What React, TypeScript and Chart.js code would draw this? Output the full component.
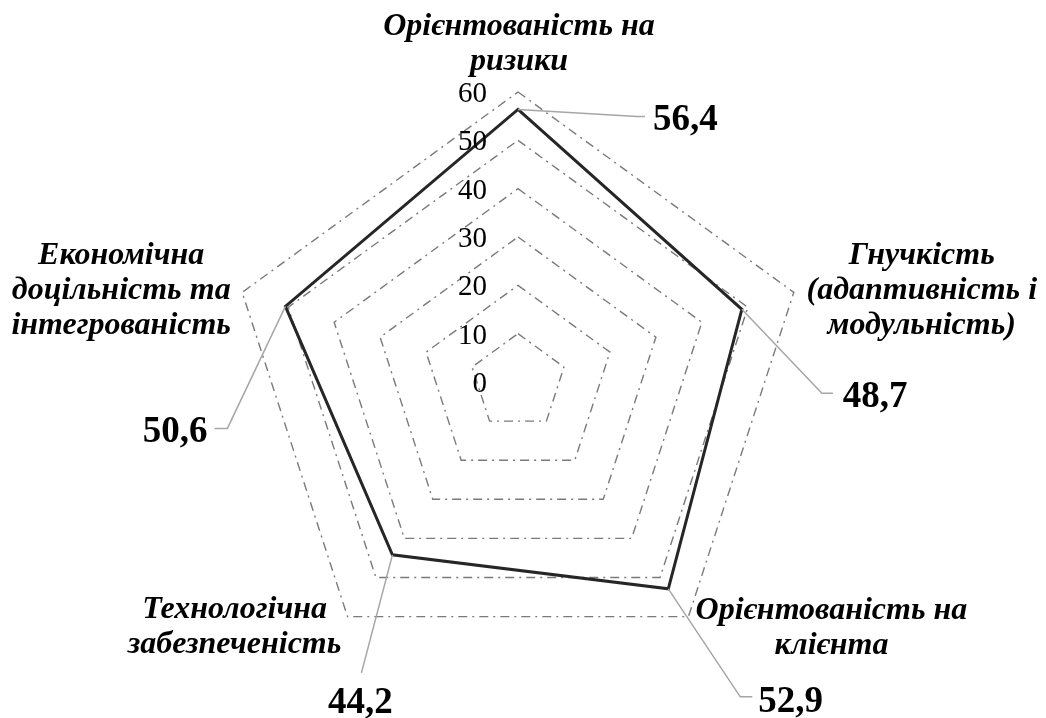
import { useEffect, useRef } from "react";
import { Chart, registerables } from "chart.js";

Chart.register(...registerables);

// ---- data ----
const categories: string[][] = [
  ["Орієнтованість на", "ризики"],
  ["Гнучкість", "(адаптивність і", "модульність)"],
  ["Орієнтованість на", "клієнта"],
  ["Технологічна", "забезпеченість"],
  ["Економічна", "доцільність та", "інтегрованість"],
];
const values = [56.4, 48.7, 52.9, 44.2, 50.6];
const valueLabels = ["56,4", "48,7", "52,9", "44,2", "50,6"];
const tickLabels = ["0", "10", "20", "30", "40", "50", "60"];

// ---- styles / label placement (relative to scale points) ----
const SERIF = "'Liberation Serif', 'Times New Roman', serif";
const catOffsets: [number, number][] = [
  [1, -50],
  [128, -3],
  [143, 10],
  [-113, 9],
  [-121, -3],
];
const leaderOffsets: [number, number][][] = [
  [[119, 7], [127, 7]],
  [[80, 84], [91, 84]],
  [[72, 108], [84, 108]],
  [[-31, 118]],
  [[-58, 122], [-71, 122]],
];
const valueTextPos: [number, number, CanvasTextAlign][] = [
  [135, 9, "left"],
  [101, 86, "left"],
  [90, 111, "left"],
  [-32, 146, "center"],
  [-78, 124, "right"],
];

const labelsPlugin = {
  id: "customLabels",
  afterDatasetsDraw(chart: any) {
    const scale = chart.scales.r;
    const ctx: CanvasRenderingContext2D = chart.ctx;
    ctx.save();

    // tick labels (left of the vertical axis)
    ctx.fillStyle = "#000";
    ctx.font = `29px ${SERIF}`;
    ctx.textAlign = "right";
    ctx.textBaseline = "alphabetic";
    scale.ticks.forEach((t: any, i: number) => {
      const d = scale.getDistanceFromCenterForValue(t.value);
      const y = scale.yCenter - d;
      ctx.fillText(tickLabels[i] ?? String(t.value), scale.xCenter - 31, y + 10);
    });

    // category labels
    ctx.font = `italic bold 32px ${SERIF}`;
    ctx.textAlign = "center";
    const lh = 35;
    categories.forEach((lines, i) => {
      const p = scale.getPointPosition(i, scale.drawingArea);
      const cx = p.x + catOffsets[i][0];
      const cy = p.y + catOffsets[i][1];
      lines.forEach((ln, k) => {
        const by = cy + (k - (lines.length - 1) / 2) * lh + 10;
        ctx.fillText(ln, cx, by);
      });
    });

    // leader lines + value labels
    values.forEach((v, i) => {
      const p = scale.getPointPositionForValue(i, v);
      ctx.strokeStyle = "#a6a6a6";
      ctx.lineWidth = 1.5;
      ctx.setLineDash([]);
      ctx.beginPath();
      ctx.moveTo(p.x, p.y);
      leaderOffsets[i].forEach(([dx, dy]) => ctx.lineTo(p.x + dx, p.y + dy));
      ctx.stroke();

      const [tx, ty, align] = valueTextPos[i];
      ctx.fillStyle = "#000";
      ctx.font = `bold 37px ${SERIF}`;
      ctx.textAlign = align;
      ctx.fillText(valueLabels[i], p.x + tx, p.y + ty + 12);
    });

    ctx.restore();
  },
};

export default function App() {
  const ref = useRef<HTMLCanvasElement | null>(null);
  useEffect(() => {
    if (!ref.current) return;
    const chart = new Chart(ref.current, {
      type: "radar",
      data: {
        labels: categories.map((c) => c.join(" ")),
        datasets: [
          {
            data: values,
            borderColor: "#262626",
            borderWidth: 3,
            fill: false,
            pointRadius: 0,
            pointHoverRadius: 0,
            tension: 0,
          },
        ],
      },
      options: {
        animation: false,
        responsive: true,
        maintainAspectRatio: false,
        layout: { padding: { top: 92, bottom: 46, left: 0, right: 10 } },
        plugins: { legend: { display: false }, tooltip: { enabled: false } },
        scales: {
          r: {
            min: 0,
            max: 60,
            ticks: { stepSize: 10, display: false },
            pointLabels: { display: false },
            angleLines: { display: false },
            grid: { color: "#7a7a7a", lineWidth: 1.4 },
            border: { dash: [9, 5, 2, 5] },
          },
        },
      },
      plugins: [labelsPlugin],
    });
    return () => chart.destroy();
  }, []);
  return (
    <div style={{ position: "fixed", left: 0, top: 0, width: 1046, height: 718, background: "#fff" }}>
      <canvas ref={ref} style={{ display: "block" }} />
    </div>
  );
}
